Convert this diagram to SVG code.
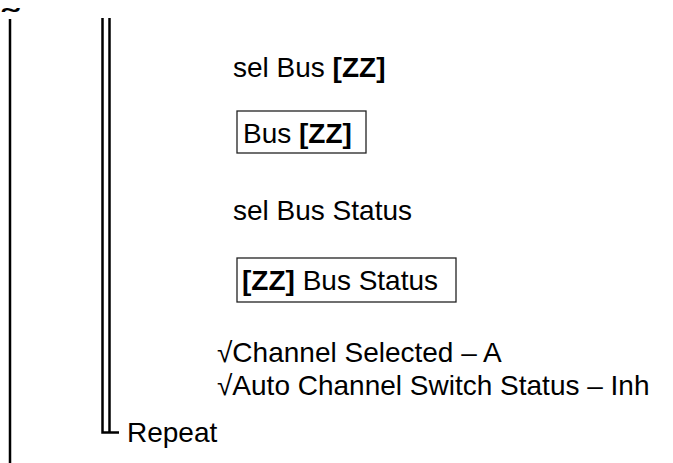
<svg xmlns="http://www.w3.org/2000/svg" width="673" height="463" viewBox="0 0 673 463">
  <style>
    .t { font-family: "Liberation Sans", Arial, sans-serif; font-size: 28px; fill: #000; }
    .b { font-weight: bold; }
    .bar { stroke: #000; stroke-width: 2.5; fill: none; }
    .box { fill: #fff; stroke: #222; stroke-width: 1.3; }
  </style>
  <rect width="673" height="463" fill="#fff"/>

  <!-- loop brackets -->
  <g id="connectors">
    <line class="bar" x1="10" y1="19" x2="10" y2="463"/>
    <polyline class="bar" points="102.5,18 102.5,432.5 119,432.5"/>
    <line class="bar" x1="109.5" y1="18" x2="109.5" y2="432"/>
  </g>

  <!-- small tilde above the outer bracket, widened horizontally -->
  <g id="tilde">
    <text class="t b" font-size="30" transform="translate(2,27.5) scale(1.7,1)">˜</text>
  </g>

  <g id="sel-bus">
    <text class="t" x="233" y="77">sel Bus <tspan class="b">[ZZ]</tspan></text>
  </g>

  <g id="bus-box">
    <rect class="box" x="237" y="111" width="129" height="42"/>
    <text class="t" x="243" y="143">Bus <tspan class="b">[ZZ]</tspan></text>
  </g>

  <g id="sel-bus-status">
    <text class="t" x="233" y="220">sel Bus Status</text>
  </g>

  <g id="bus-status-box">
    <rect class="box" x="237" y="258" width="219" height="44"/>
    <text class="t" x="242" y="290"><tspan class="b">[ZZ]</tspan> Bus Status</text>
  </g>

  <g id="checks">
    <text class="t" x="217" y="362">√Channel Selected – A</text>
    <text class="t" x="217" y="395">√Auto Channel Switch Status – Inh</text>
  </g>

  <g id="repeat">
    <text class="t" x="127" y="442">Repeat</text>
  </g>
</svg>
